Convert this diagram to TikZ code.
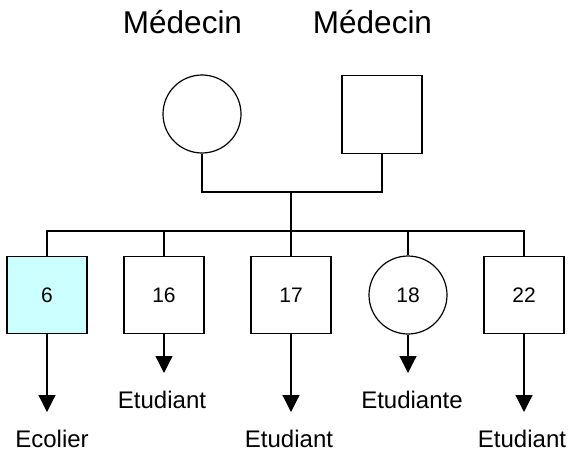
\documentclass[tikz,border=0pt]{standalone}
\usepackage{fontspec}
\setmainfont{Liberation Sans}
\usetikzlibrary{arrows.meta, positioning}
\definecolor{bleuclair}{RGB}{204,255,255}

\begin{document}
\begin{tikzpicture}[x=1pt, y=-1pt,
    homme/.style={draw, line width=1.2pt, minimum width=80pt, minimum height=77pt, inner sep=0pt, font=\fontsize{21}{25}\selectfont},
    femme/.style={draw, circle, line width=1.2pt, minimum size=78pt, inner sep=0pt, font=\fontsize{21}{25}\selectfont},
    lien/.style={line width=1.2pt},
    fleche/.style={line width=1.2pt, -{Triangle[width=17pt, length=17pt]}},
    metier/.style={anchor=base, inner sep=0pt, font=\fontsize{24}{28}\selectfont},
    titre/.style={anchor=base, inner sep=0pt, font=\fontsize{31.5}{36}\selectfont}]
    \useasboundingbox (0,0) rectangle (573,452);

    % Parents
    \node[femme] (mere) at (202,114) {};
    \node[homme, minimum height=78pt] (pere) at (382,114.5) {};
    \node[titre] (mereTxt) at (182.5,34) {Médecin};
    \node[titre] (pereTxt) at (372.5,34) {Médecin};

    % Children
    \node[homme, fill=bleuclair] (e1) at (47,295) {6};
    \node[homme] (e2) at (164,295) {16};
    \node[homme] (e3) at (291,295) {17};
    \node[femme] (e4) at (408,295) {18};
    \node[homme] (e5) at (524,295) {22};

    % Couple and siblings lines
    \coordinate (couple) at (291,192);
    \coordinate (fratrie) at (291,231);
    \draw[lien] (mere.south) |- (couple) -| (pere.south);
    \draw[lien] (couple) -- (e3.north);
    \draw[lien] (e1.north) |- (fratrie) -| (e5.north);
    \foreach \e in {e2,e4}
      \draw[lien] (\e.north) -- (\e.north |- fratrie);

    % Arrows and jobs
    \foreach \e/\y/\dx/\job in {e1/412/5/Ecolier, e2/373/-2/Etudiant, e3/412/-2/Etudiant, e4/373/4/Etudiante, e5/412/-2/Etudiant} {
      \coordinate (\e bout) at (\e.south |- 0,\y);
      \draw[fleche] (\e.south) -- (\e bout);
      \node[metier] (\e job) at ([xshift=\dx pt, yshift=-35pt]\e bout) {\job};
    }
\end{tikzpicture}
\end{document}
